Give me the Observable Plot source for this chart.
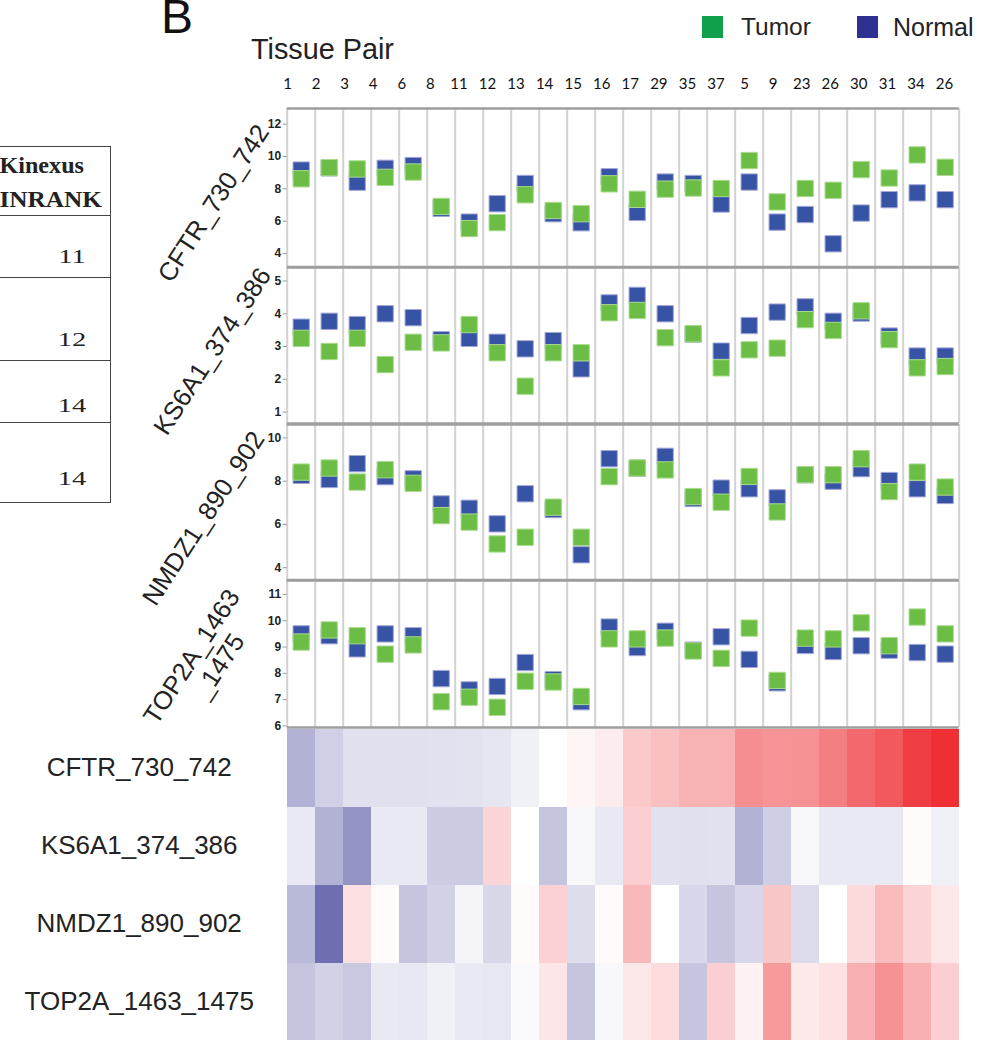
<!DOCTYPE html>
<html><head><meta charset="utf-8">
<script src="https://cdn.jsdelivr.net/npm/d3@7"></script>
<script src="https://cdn.jsdelivr.net/npm/@observablehq/plot@0.6"></script>
<style>
body{margin:0;background:#fff;}
#root{position:relative;width:999px;height:1040px;overflow:hidden;background:#fff;font-family:Arial,"Liberation Sans",sans-serif;color:#222;}
.hl{position:absolute;left:0;width:111px;height:1px;background:#444;}
.rot{position:absolute;white-space:nowrap;font-size:25.5px;text-align:center;line-height:28px;transform:translate(-50%,-50%) rotate(-57deg);}
svg{overflow:visible;}
</style></head><body><div id="root"></div>
<script>
// ---------- data ----------
const pairLabels = ["1","2","3","4","6","8","11","12","13","14","15","16","17","29","35","37","5","9","23","26","30","31","34","26"];
const peptides = ["CFTR_730_742","KS6A1_374_386","NMDZ1_890_902","TOP2A_1463_1475"];

const cftrTumor  = [8.62,9.31,9.23,8.71,9.04,6.91,5.54,5.91,7.63,6.66,6.46,8.31,7.35,7.98,8.05,8.02,9.75,7.19,8.02,7.91,9.19,8.67,10.1,9.33];
const cftrNormal = [9.16,9.30,8.41,9.27,9.44,6.79,5.94,7.08,8.33,6.46,5.90,8.75,6.54,8.42,8.33,7.06,8.42,5.94,6.41,4.60,6.50,7.33,7.75,7.33];

const ks6Tumor  = [3.25,2.85,3.25,2.45,3.13,3.11,3.67,2.81,1.79,2.81,2.81,4.03,4.10,3.27,3.39,2.35,2.90,2.95,3.82,3.49,4.09,3.21,2.35,2.39];
const ks6Normal = [3.59,3.77,3.67,4.00,3.88,3.21,3.25,3.13,2.93,3.18,2.32,4.33,4.56,4.00,3.38,2.86,3.64,4.05,4.21,3.77,4.02,3.32,2.71,2.71];

const nmdTumor  = [8.42,8.61,7.96,8.53,7.90,6.41,6.11,5.10,5.41,6.80,5.41,8.21,8.61,8.52,7.29,7.03,8.22,6.58,8.30,8.30,9.04,7.52,8.42,7.73];
const nmdNormal = [8.27,8.08,8.81,8.21,8.11,6.95,6.75,6.03,7.42,6.69,4.60,9.04,8.60,9.15,7.20,7.68,7.65,7.23,8.30,8.00,8.58,8.03,7.65,7.34];

const topTumor  = [9.19,9.65,9.43,8.73,9.08,6.92,7.09,6.71,7.70,7.67,7.12,9.31,9.31,9.34,8.85,8.57,9.72,7.73,9.34,9.31,9.92,9.05,10.14,9.50];
const topNormal = [9.50,9.43,8.93,9.50,9.43,7.80,7.37,7.50,8.41,7.76,6.92,9.76,8.98,9.60,8.88,9.39,8.53,7.64,9.06,8.83,9.05,8.88,8.79,8.73];

const panelDomains = [[3.17,12.97],[0.65,5.41],[3.43,10.62],[5.94,11.53]];
const panelTicks = [[4,6,8,10,12],[1,2,3,4,5],[4,6,8,10],[6,7,8,9,10,11]];

const heatCFTR = [-0.52,-0.32,-0.21,-0.21,-0.21,-0.20,-0.19,-0.17,-0.10,0,0.05,0.09,0.26,0.31,0.37,0.37,0.54,0.52,0.53,0.62,0.73,0.80,0.93,1.0];
const heatKS6  = [-0.15,-0.52,-0.71,-0.15,-0.15,-0.34,-0.34,0.20,0,-0.39,-0.05,-0.15,0.23,-0.20,-0.21,-0.20,-0.52,-0.33,-0.05,-0.15,-0.15,-0.15,0.02,-0.10];
const heatNMD  = [-0.47,-0.97,0.15,0.02,-0.39,-0.30,-0.07,-0.26,0.02,0.22,-0.23,0.02,0.34,0,-0.26,-0.39,-0.27,0.27,-0.24,0,0.18,0.33,0.21,0.11];
const heatTOP  = [-0.39,-0.30,-0.37,-0.15,-0.16,-0.10,-0.15,-0.16,-0.03,0.12,-0.39,-0.05,0.11,0.17,-0.39,0.23,0.07,0.49,0.10,0.14,0.38,0.53,0.38,0.23];

const tableRanks = ["11","12","14","14"];

// ---------- layout helpers ----------
const root = document.getElementById("root");
function place(el, left, top){ el.style.position="absolute"; el.style.left=left+"px"; el.style.top=top+"px"; root.appendChild(el); return el; }
function div(html, css){ const d=document.createElement("div"); d.innerHTML=html; if(css) d.style.cssText=css; return d; }

const FONT = "Arial, 'Liberation Sans', sans-serif";
const plotLeft = 286.7, plotRight = 958.7;

// ---------- panels ----------
const panels = [
  [cftrTumor, cftrNormal, 108.3, 266.7],
  [ks6Tumor, ks6Normal, 267.2, 423.3],
  [nmdTumor, nmdNormal, 423.7, 579.3],
  [topTumor, topNormal, 579.7, 726.7]
];
panels.forEach(([tum, nor, top, bottom], k) => {
  const rows = tum.map((t, i) => ({i, t, n: nor[i]}));
  const pad = 4;
  const chart = Plot.plot({
    width: 999, height: (bottom - top) + 2*pad,
    marginLeft: plotLeft, marginRight: 999 - plotRight, marginTop: pad, marginBottom: pad,
    style: {fontFamily: FONT, background: "transparent", overflow: "visible"},
    x: {domain: [0, 24], axis: null},
    y: {domain: panelDomains[k], axis: null},
    marks: [
      Plot.ruleX(d3.range(25), {stroke: "#d2d2d2", strokeWidth: 2}),
      Plot.ruleY(panelDomains[k], {stroke: "#9e9e9e", strokeWidth: 2.5}),
      Plot.axisY(panelTicks[k], {tickSize: 4, tickPadding: 2, fontSize: 12, fontWeight: "bold", fill: "#222", stroke: "#999", label: null}),
      Plot.dot(rows, {x: d => d.i + 0.5, y: "n", symbol: "square", r: 9.2, fill: "#3753a4", stroke: "#a4a7da", strokeWidth: 1}),
      Plot.dot(rows, {x: d => d.i + 0.5, y: "t", symbol: "square", r: 9.2, fill: "#6bbd46", stroke: "#a9db8c", strokeWidth: 1})
    ]
  });
  place(chart, 0, top - pad);
});

// ---------- column labels (Tissue Pair) ----------
const labelChart = Plot.plot({
  width: 999, height: 40,
  marginLeft: 272.7, marginRight: 40.7, marginTop: 33, marginBottom: 5,
  style: {fontFamily: "Lato, 'Open Sans', sans-serif", background: "transparent", overflow: "visible"},
  x: {domain: [0, 24], axis: null},
  marks: [
    Plot.axisX(d3.range(24).map(i => i + 0.5), {anchor: "top", tickSize: 0, tickPadding: 3, fontSize: 15, fill: "#111", label: null, tickFormat: d => pairLabels[Math.floor(d)]})
  ]
});
place(labelChart, 0, 58);

// ---------- heatmap ----------
const heatRows = [heatCFTR, heatKS6, heatNMD, heatTOP];
const cells = [];
heatRows.forEach((arr, r) => arr.forEach((v, i) => cells.push({i, p: peptides[r], v})));
const heat = Plot.plot({
  width: 999, height: 315,
  marginLeft: 285.7, marginRight: 38, marginTop: 0, marginBottom: 0,
  style: {fontFamily: FONT, background: "transparent", overflow: "visible"},
  x: {type: "band", domain: d3.range(24), padding: 0, axis: null},
  y: {type: "band", domain: peptides, padding: 0, axis: null},
  color: {type: "linear", domain: [-1, 0, 1], range: ["#6a6aae", "#ffffff", "#ee3035"], interpolate: "rgb"},
  marks: [
    Plot.cell(cells, {x: "i", y: "p", fill: "v"}),
    Plot.axisY({tickSize: 0, tickPadding: 147, textAnchor: "middle", fontSize: 26, fill: "#222", label: null, dy: -1})
  ]
});
place(heat, 0, 727);

// ---------- texts ----------
place(div("B", "font-size:48px;line-height:34px;color:#111;"), 161, 0);
place(div("Tissue Pair", "font-size:28.8px;line-height:30px;color:#222;"), 251, 34);

// legend
place(div("", "width:21px;height:22px;background:#12a04c;"), 702, 16);
place(div("Tumor", "font-size:24.5px;line-height:26px;color:#222;"), 741, 14);
place(div("", "width:21px;height:22px;background:#2e3192;"), 857, 16);
place(div("Normal", "font-size:25px;line-height:26px;color:#222;"), 893, 14);

// rotated peptide labels
const rotLabels = [
  ["CFTR_730_742", 213, 203],
  ["KS6A1_374_386", 212, 351],
  ["NMDZ1_890_902", 203, 518],
  ["TOP2A_1463<br>&nbsp;&nbsp;_1475", 203, 664]
];
rotLabels.forEach(([t, x, y]) => { const d = div(t); d.className = "rot"; d.style.left = x + "px"; d.style.top = y + "px"; root.appendChild(d); });

// table fragment
[146, 215, 276.5, 359.5, 421.5, 501.5].forEach(y => { const l = div(""); l.className = "hl"; l.style.top = y + "px"; root.appendChild(l); });
place(div("", "width:1px;height:356px;background:#444;"), 110, 146);
const serif = "font-family:'Liberation Serif','Times New Roman',serif;";
place(div("Kinexus", serif + "font-weight:bold;font-size:23px;line-height:24px;width:84px;text-align:right;transform-origin:right center;transform:scaleX(1.05);"), 0, 154);
place(div("INRANK", serif + "font-weight:bold;font-size:23px;line-height:24px;width:102px;text-align:right;transform-origin:right center;transform:scaleX(1.1);"), 0, 188);
const rankTops = [247, 330, 396, 469];
tableRanks.forEach((t, i) => place(div(t, serif + "font-size:19px;line-height:20px;width:80px;text-align:center;transform:scaleX(1.5);"), 32, rankTops[i]));
</script></body></html>
